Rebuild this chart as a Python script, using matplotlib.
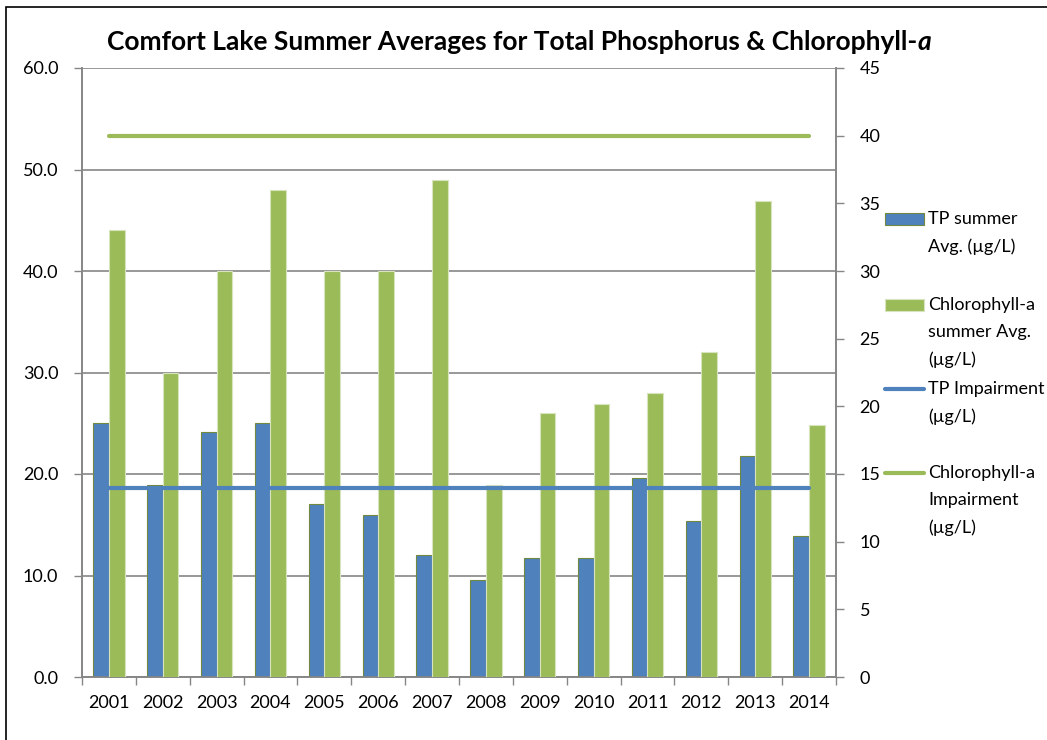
import numpy as np
import matplotlib
matplotlib.use('Agg')
import matplotlib.pyplot as plt
from matplotlib.patches import Rectangle
from matplotlib.lines import Line2D

plt.rcParams['font.family'] = ['Lato', 'DejaVu Sans']

years = ['2001', '2002', '2003', '2004', '2005', '2006', '2007',
         '2008', '2009', '2010', '2011', '2012', '2013', '2014']
tp_avg = [25.0, 18.9, 24.1, 25.0, 17.0, 16.0, 12.0, 9.6, 11.7, 11.7, 19.6, 15.4, 21.8, 13.9]
chl_avg = [33.0, 22.5, 30.0, 36.0, 30.0, 30.0, 36.7, 14.2, 19.5, 20.2, 21.0, 24.0, 35.2, 18.6]
tp_impair = 14
chl_impair = 40

blue = '#4F81BD'
green = '#9BBB59'
grey = '#868686'

W, H = 1047, 740
fig = plt.figure(figsize=(W / 100, H / 100), dpi=100)


def px(x, y):
    # pixel position -> figure fraction
    return x / W, 1 - y / H


ax = fig.add_axes([82 / W, 1 - 677 / H, (836 - 82) / W, (677 - 68) / H])
ax2 = ax.twinx()

x = np.arange(len(years))
w = 0.29

ax.bar(x - w / 2, tp_avg, w, color=blue, edgecolor='#71893F', linewidth=0.8, zorder=3)
ax2.bar(x + w / 2, chl_avg, w, color=green, edgecolor='#D7E4BD', linewidth=0.8, zorder=3)
ax2.plot([x[0], x[-1]], [tp_impair, tp_impair], color=blue, lw=3, solid_capstyle='round', zorder=4)
ax2.plot([x[0], x[-1]], [chl_impair, chl_impair], color=green, lw=3, solid_capstyle='round', zorder=4)

ax.set_xlim(-0.5, len(years) - 0.5)
ax.set_ylim(0, 60)
ax2.set_ylim(0, 45)

ax.set_yticks(np.arange(0, 61, 10))
ax.set_yticklabels(['%.1f' % v for v in np.arange(0, 61, 10)])
ax2.set_yticks(np.arange(0, 46, 5))

fs = 13
ax.set_xticks(x)
ax.set_xticklabels(years)
ax.set_xticks(np.arange(-0.5, len(years), 1), minor=True)
ax.tick_params(axis='x', which='major', length=0, pad=13, labelsize=fs)
ax.tick_params(axis='x', which='minor', length=6, color=grey, width=1)
ax.tick_params(axis='y', length=6, color=grey, width=1, labelsize=fs, pad=11)
ax2.tick_params(axis='y', length=6, color=grey, width=1, labelsize=fs, pad=11)

ax.yaxis.grid(True, color=grey, lw=1.2, zorder=0)
ax.set_axisbelow(True)

for a in (ax, ax2):
    a.spines['top'].set_visible(False)
    for s in ('left', 'right', 'bottom'):
        a.spines[s].set_color(grey)
        a.spines[s].set_linewidth(1.2)
ax2.patch.set_visible(False)

# title, with italic "a" at the end
t1 = fig.text(*px(107, 42), 'Comfort Lake Summer Averages for Total Phosphorus & Chlorophyll-',
              fontsize=19, fontweight='bold', ha='left', va='center')
fig.canvas.draw()
bb = t1.get_window_extent(fig.canvas.get_renderer())
fig.text(bb.x1 / W, 1 - 42 / H, 'a', fontsize=19, fontweight='bold', style='italic',
         ha='left', va='center')

# legend drawn to the right of the plot
legend_items = [
    ('bar', blue, '#71893F', 219, ['TP summer', 'Avg. (µg/L)']),
    ('bar', green, '#D7E4BD', 305, ['Chlorophyll-a', 'summer Avg.', '(µg/L)']),
    ('line', blue, None, 389, ['TP Impairment', '(µg/L)']),
    ('line', green, None, 473, ['Chlorophyll-a', 'Impairment', '(µg/L)']),
]
for kind, col, ec, y0, lines in legend_items:
    if kind == 'bar':
        x0, y1 = px(885, y0 + 6)
        fig.patches.append(Rectangle((x0, y1), 39 / W, 12 / H, transform=fig.transFigure,
                                     facecolor=col, edgecolor=ec, lw=0.8))
    else:
        xa, ya = px(885, y0)
        xb, _ = px(924, y0)
        fig.lines.append(Line2D([xa, xb], [ya, ya], transform=fig.transFigure,
                                color=col, lw=3, solid_capstyle='round'))
    for i, s in enumerate(lines):
        fig.text(*px(928, y0 + i * 27.5), s, fontsize=fs, ha='left', va='center')

# chart border (right and bottom edges fall outside the picture)
fig.patches.append(Rectangle(px(6, 760), 1100 / W, 753 / H, transform=fig.transFigure,
                             facecolor='none', edgecolor='black', lw=1.2))

fig.savefig('out.png', dpi=100)
